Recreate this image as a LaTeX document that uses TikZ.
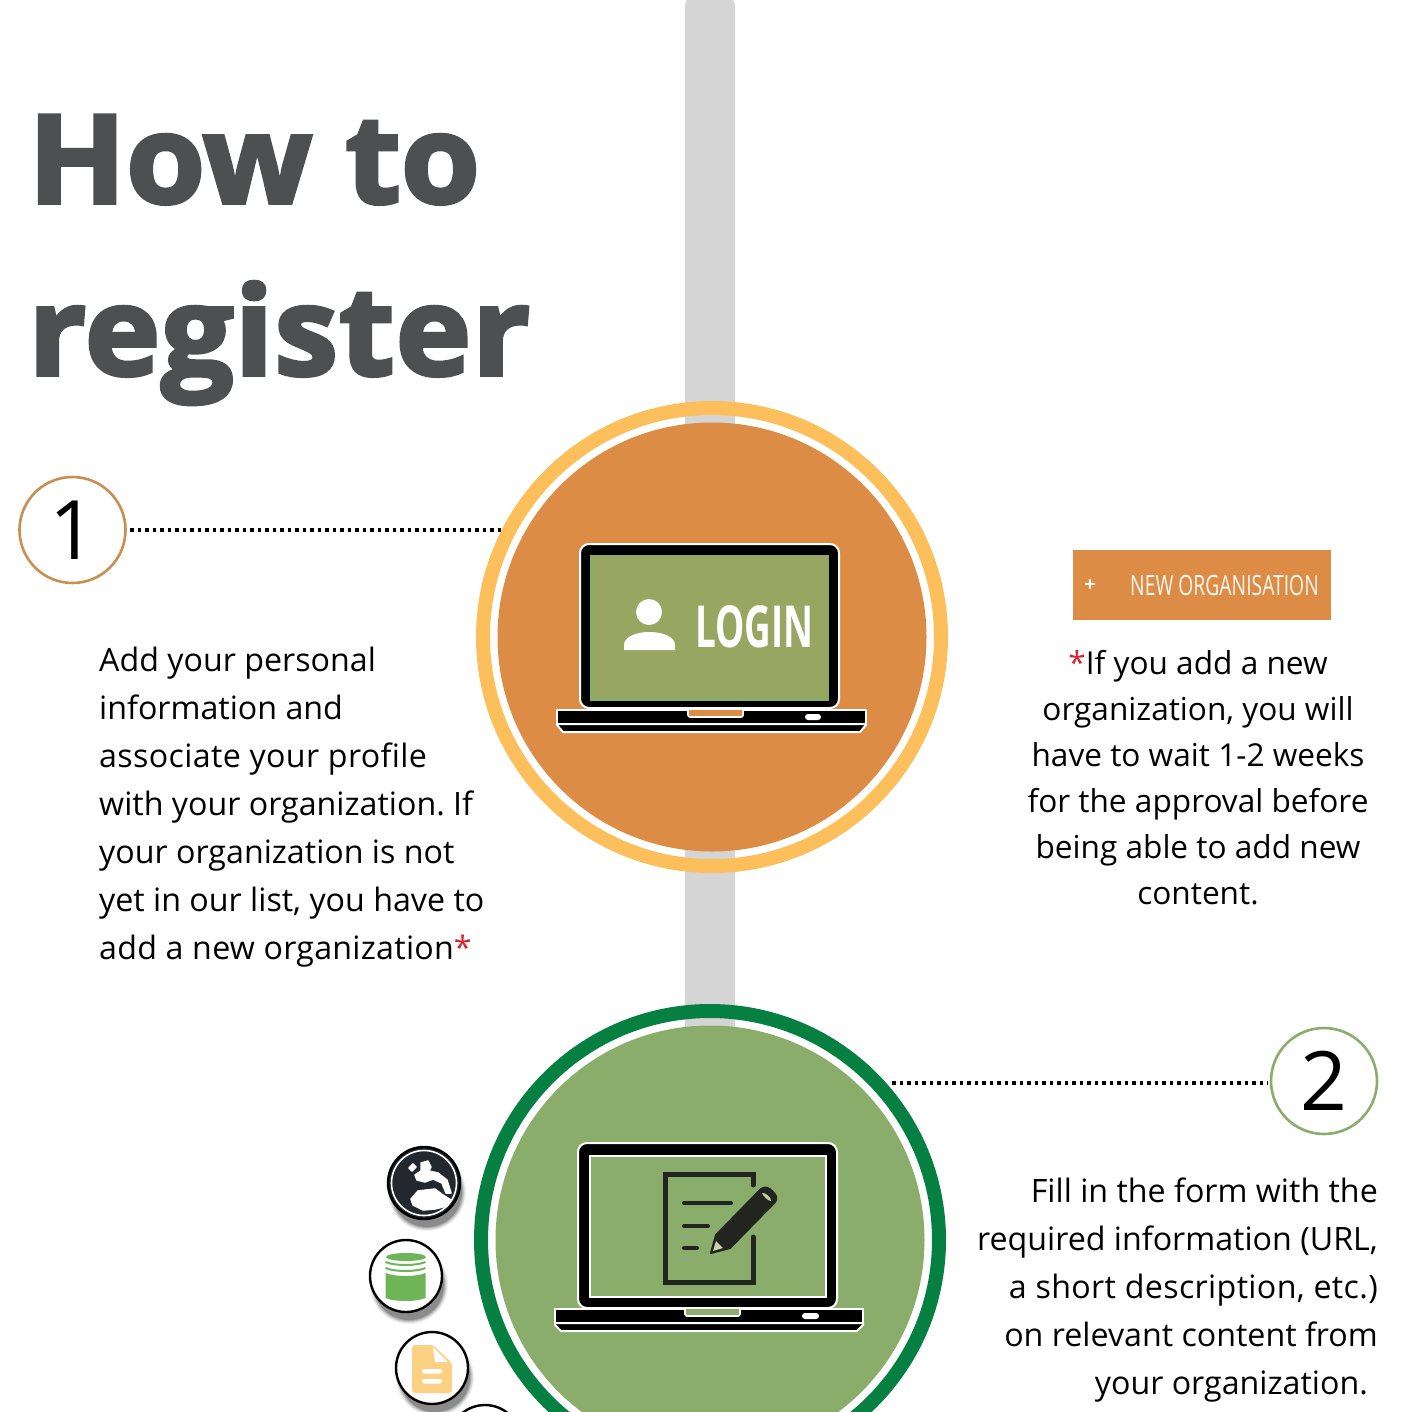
\documentclass[tikz,border=0pt]{standalone}
\usepackage{fontspec}
\setmainfont[Ligatures=NoCommon]{Open Sans}
\newfontfamily\titlefont[FakeStretch=1.04,FakeBold=3,BoldFeatures={FakeStretch=1.04,FakeBold=3}]{Open Sans}
\newfontfamily\titlewidefont[FakeStretch=1.04,LetterSpace=0.8,BoldFeatures={FakeStretch=1.04,FakeBold=3,LetterSpace=0.8}]{Open Sans}
\newfontfamily\condfont[FakeStretch=0.69]{Open Sans}
\newfontfamily\condboldfont[FakeStretch=0.635,BoldFeatures={FakeStretch=0.635}]{Open Sans}
\newcommand{\widerline}[2]{{\addfontfeature{LetterSpace=#1}#2}}
\frenchspacing
\definecolor{titlegray}{HTML}{4D4F50}
\definecolor{bargray}{HTML}{D5D5D5}
\definecolor{orangefill}{HTML}{DD8C46}
\definecolor{orangering}{HTML}{FDBF5C}
\definecolor{greenfill}{HTML}{8AAD6B}
\definecolor{greenring}{HTML}{058040}
\definecolor{screenfill}{HTML}{98A661}
\definecolor{inkdark}{HTML}{222420}
\definecolor{globedark}{HTML}{23282F}
\definecolor{cylgreen}{HTML}{6DB556}
\definecolor{docyellow}{HTML}{FCD183}
\definecolor{numorange}{HTML}{C98F50}
\definecolor{ast}{HTML}{D8232A}
\tikzset{
  titletext/.style={anchor=base west,inner sep=0pt,text=titlegray,font=\titlefont\bfseries\fontsize{123}{123}\selectfont},
  bodytext/.style={inner sep=0pt,text=black,font=\fontsize{32.2}{48}\selectfont},
  numcircle/.style={circle,draw,line width=2.6pt,fill=white,minimum size=106pt,inner sep=0pt,font=\fontsize{82}{82}\selectfont},
  dotline/.style={line width=3.6pt,dash pattern=on 3.6pt off 3.9pt,black},
  laptopbody/.style={fill=black,draw=white,line width=2pt,rounded corners=9pt},
  laptopbase/.style={fill=black,draw=white,line width=2pt},
  inkline/.style={draw=inkdark,line width=5pt,line cap=round},
  smallcircle/.style={fill=white,draw=black,line width=2.4pt},
  landmass/.style={fill=white,draw=white,line width=1.5pt,line join=round}
}
\newcommand{\softshadow}[2]{%
  \foreach \r/\o in {39/0.06,38/0.08,37/0.10,36/0.14,35/0.18}{
    \fill[black,opacity=\o] (#1+3,#2+9) circle (\r pt);}
}
\begin{document}
\begin{tikzpicture}[x=1pt,y=-1pt]
\useasboundingbox (0,0) rectangle (1412,1412);
\clip (0,0) rectangle (1412,1412);
\fill[white] (0,0) rectangle (1412,1412);
% title
\node[titletext] (t1) at (28,203) {How to};
\node[titletext,font=\titlewidefont\bfseries\fontsize{123}{123}\selectfont] (t2) at (28,375) {register};
% bar
\fill[bargray,rounded corners=10pt] (685,-4) rectangle (735,1040);
% circle one
\fill[white] (712,637) circle (222pt);
\fill[bargray] (685,405) rectangle (735,430);
\fill[bargray] (685,845) rectangle (735,870);
\fill[orangefill] (712,637) circle (214.5pt);
\draw[orangering,line width=14pt] (712,637) circle (229pt);
\coordinate (c1edge) at (502,530);
% circle two
\fill[white] (710,1240) circle (222pt);
\fill[bargray] (685,1010) rectangle (735,1035);
\fill[greenfill] (710,1240) circle (214.5pt);
\draw[greenring,line width=14pt] (710,1240) circle (229pt);
\coordinate (c2edge) at (892,1083);
% numbers and dots
\node[numcircle,draw=numorange] (n1) at (72.5,530) {1};
\node[numcircle,draw=greenfill] (n2) at (1324,1081) {2};
\coordinate (d1) at (130,530);
\coordinate (d2) at (1268,1083);
\draw[dotline] (d1) -- (c1edge);
\draw[dotline] (c2edge) -- (d2);
% laptop one
\draw[laptopbody] (580,708) -- (580,544) -- (839,544) -- (839,708) -- cycle;
\fill[greenfill] (590,555) rectangle (829,701);
\fill[screenfill] (593,555) rectangle (829,697);
\draw[laptopbase] (557,710) rectangle (866,724);
\draw[laptopbase] (557,724) -- (866,724) -- (866,725) -- (860,732) -- (563,732) -- (557,725) -- cycle;
\draw[fill=orangefill,draw=white,line width=1.6pt,rounded corners=2pt] (688,710) -- (688,717) -- (743,717) -- (743,710);
\fill[white,rounded corners=3pt] (805,714) rectangle (821,720);
\fill[white] (649,612) circle (13pt);
\fill[white] (624,650) -- (624,645) .. controls (624,636) and (638,632) .. (649.5,632) .. controls (661,632) and (675,636) .. (675,645) -- (675,650) -- cycle;
\node[inner sep=0pt,anchor=base west,text=white,font=\condboldfont\bfseries\fontsize{58}{58}\selectfont] (login) at (695,647) {LOGIN};
% laptop two
\draw[laptopbody] (578,1308) -- (578,1143) -- (837,1143) -- (837,1308) -- cycle;
\draw[fill=greenfill,draw=white,line width=2pt] (590,1156) rectangle (826,1297);
\draw[laptopbase] (555,1309) rectangle (863,1323);
\draw[laptopbase] (555,1323) -- (863,1323) -- (863,1325) -- (857,1331) -- (561,1331) -- (555,1325) -- cycle;
\draw[fill=greenfill,draw=white,line width=1.6pt,rounded corners=2pt] (685,1309) -- (685,1316) -- (740,1316) -- (740,1309);
\fill[white,rounded corners=3pt] (802,1313) rectangle (819,1319);
% form icon
\draw[inkline] (753,1185) -- (753,1174) -- (665,1174) -- (665,1282) -- (753,1282) -- (753,1237);
\draw[inkline,line width=4pt] (684,1203) -- (731,1203);
\draw[inkline,line width=4pt] (684,1226) -- (708,1226);
\draw[inkline,line width=4pt] (684,1248) -- (697,1248);
\draw[fill=inkdark,draw=inkdark,line width=2pt,line join=round] (711,1253) -- (716,1235) -- (761,1189) .. controls (766,1186) and (769,1188) .. (773,1192) .. controls (777,1196) and (777,1199) .. (775,1202) -- (730,1248) -- cycle;
\fill[screenfill!50!white] (713,1251) -- (716,1241) -- (723,1248) -- cycle;
\fill[screenfill!60!white] (762,1193) .. controls (765,1192) and (772,1198) .. (771,1201) .. controls (768,1201) and (763,1196) .. (762,1193) -- cycle;
% small circles
\softshadow{424}{1183}
\draw[smallcircle,fill=globedark] (424,1183) circle (36pt);
\draw[white,line width=1.6pt] (424,1183) circle (32.5pt);
\draw[landmass] (411,1199) -- (418,1191) -- (435,1189) -- (443,1195) -- (451,1200) -- (447,1206) -- (435,1209) -- (423,1210) -- (413,1205) -- cycle;
\draw[landmass] (421,1163) -- (428,1161) -- (431,1167) -- (429,1171) -- (438,1173) -- (447,1180) -- (451,1193) -- (446,1193) -- (442,1183) -- (433,1179) -- (425,1182) -- (417,1180) -- (415,1175) -- (421,1171) -- cycle;
\draw[landmass] (409,1168) -- (413,1164) -- (416,1167) -- (412,1171) -- cycle;
\softshadow{406}{1276}
\draw[smallcircle] (406,1276) circle (36pt);
\fill[cylgreen] (385.5,1273) .. controls (395,1277) and (416,1277) .. (425.5,1273) -- (425.5,1298) .. controls (416,1302) and (395,1302) .. (385.5,1298) -- cycle;
\fill[cylgreen] (406,1257) ellipse (20pt and 4pt);
\draw[cylgreen,line width=2pt] (385.5,1262) .. controls (395,1266) and (416,1266) .. (425.5,1262);
\draw[cylgreen,line width=2pt] (385.5,1268) .. controls (395,1272) and (416,1272) .. (425.5,1268);
\softshadow{432}{1368}
\draw[smallcircle] (432,1368) circle (36pt);
\fill[docyellow,rounded corners=3pt] (412,1345) -- (433,1345) -- (452,1363) -- (452,1393) -- (412,1393) -- cycle;
\fill[white] (433,1347) -- (448,1362) -- (435,1362) -- cycle;
\fill[white,rounded corners=2pt] (422,1369) rectangle (442,1373.5);
\fill[white,rounded corners=2pt] (422,1379) rectangle (442,1383.5);
\softshadow{485}{1441}
\draw[smallcircle] (485,1441) circle (36pt);
% button
\fill[orangefill] (1073,550) rectangle (1331,620);
\node[inner sep=0pt,anchor=base,text=white!92!orangefill,font=\fontsize{20}{20}\selectfont\bfseries] (plus) at (1090,591) {+};
\node[inner sep=0pt,anchor=base west,text=white!92!orangefill,font=\condfont\fontsize{28}{28}\selectfont] (neworg) at (1130,595) {NEW ORGANISATION};
% texts
\node[bodytext,align=left,anchor=base west] (p1) at (99,959) {Add your personal\\information and\\\widerline{1.1}{associate your profile}\\with your organization. If\\your organization is not\\yet in our list, you have to\\\widerline{0.8}{add a new organization}\textcolor{ast}{*}};
\node[bodytext,align=center,anchor=base,font=\fontsize{31.6}{46}\selectfont] (p2) at (1198,904) {\textcolor{ast}{*}If you add a new\\organization, you will\\have to wait 1-2 weeks\\for the approval before\\being able to add new\\content.};
\node[bodytext,align=right,anchor=base east] (p3) at (1378,1394) {Fill in the form with the\\required information (URL,\\\widerline{1.1}{a short description, etc.)}\\on relevant content from\\your organization.\hspace*{10pt}};
\end{tikzpicture}
\end{document}
